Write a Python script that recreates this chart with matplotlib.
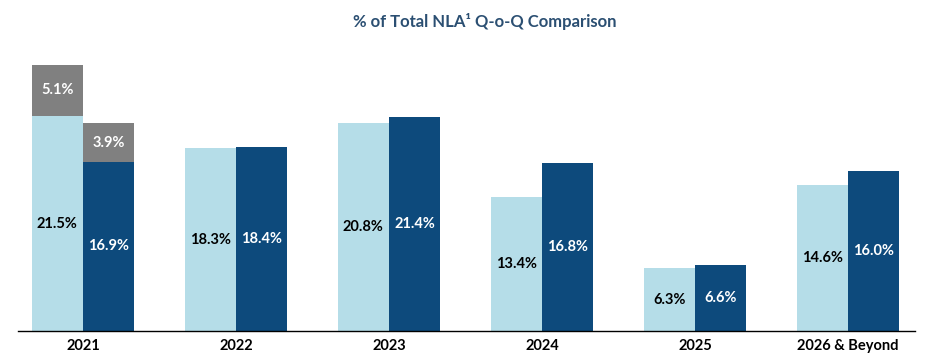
import numpy as np
import matplotlib.pyplot as plt

# % of total NLA expiring per year, previous quarter vs current quarter
years = ['2021', '2022', '2023', '2024', '2025', '2026 & Beyond']
prev_q = [21.5, 18.3, 20.8, 13.4, 6.3, 14.6]
curr_q = [16.9, 18.4, 21.4, 16.8, 6.6, 16.0]
# extra portion shown in grey on top of the 2021 bars
prev_extra = [5.1, 0, 0, 0, 0, 0]
curr_extra = [3.9, 0, 0, 0, 0, 0]

light = '#b5dde8'
dark = '#0d4a7c'
grey = '#808080'

plt.rcParams['font.family'] = ['Lato', 'DejaVu Sans']

fig = plt.figure(figsize=(9.36, 3.63), dpi=100)
ax = fig.add_axes([18 / 936, 32 / 363, (915 - 18) / 936, 300 / 363])

x = np.arange(len(years))
w = 0.335
fs = 10.5

ax.bar(x - w / 2, prev_q, w, color=light)
ax.bar(x + w / 2, curr_q, w, color=dark)
ax.bar(x - w / 2, prev_extra, w, bottom=prev_q, color=grey)
ax.bar(x + w / 2, curr_extra, w, bottom=curr_q, color=grey)

for i in range(len(years)):
    ax.text(x[i] - w / 2, prev_q[i] / 2, f'{prev_q[i]:.1f}%', ha='center', va='center',
            fontsize=fs, fontweight='bold', color='black')
    ax.text(x[i] + w / 2, curr_q[i] / 2, f'{curr_q[i]:.1f}%', ha='center', va='center',
            fontsize=fs, fontweight='bold', color='white')
    if prev_extra[i] > 0:
        ax.text(x[i] - w / 2, prev_q[i] + prev_extra[i] / 2, f'{prev_extra[i]:.1f}%',
                ha='center', va='center', fontsize=fs, fontweight='bold', color='white')
    if curr_extra[i] > 0:
        ax.text(x[i] + w / 2, curr_q[i] + curr_extra[i] / 2, f'{curr_extra[i]:.1f}%',
                ha='center', va='center', fontsize=fs, fontweight='bold', color='white')

ax.set_xlim((18 - 83) / 153, (915 - 83) / 153)
ax.set_ylim(0, 30)
ax.set_xticks(x)
ax.set_xticklabels(years, fontsize=10.5, fontweight='bold')
ax.tick_params(axis='x', length=0, pad=6)
ax.set_yticks([])
for s in ['top', 'right', 'left']:
    ax.spines[s].set_visible(False)
ax.spines['bottom'].set_color('black')
ax.spines['bottom'].set_linewidth(1)

fig.text(485 / 936, 1 - 21 / 363, '% of Total NLA\u00b9 Q-o-Q Comparison', ha='center', va='center',
         fontsize=12, fontweight='bold', color='#2b4f72')

fig.savefig('out.png', dpi=100)
